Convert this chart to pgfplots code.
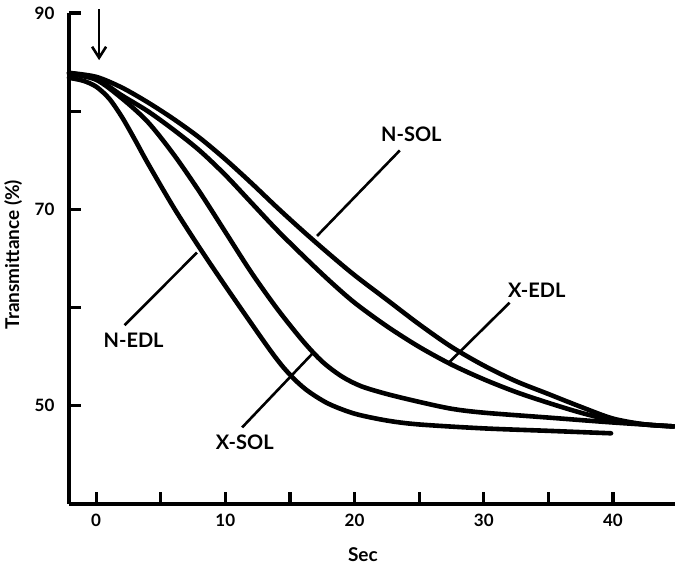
\documentclass[border=0pt]{standalone}
\usepackage{fontspec}
\setmainfont{Lato}
\usepackage{pgfplots}
\pgfplotsset{compat=1.18}
\usetikzlibrary{arrows.meta}

\begin{document}
\begin{tikzpicture}
\begin{axis}[
  scale only axis,
  width=606pt, height=491pt,
  xmin=-2.1, xmax=44.8,
  ymin=40, ymax=90,
  axis lines=left,
  axis line style={-, line width=3.2pt},
  clip=false,
  xtick={0,10,20,30,40},
  minor xtick={5,15,25,35},
  ytick={50,70,90},
  minor ytick={60,80},
  tick align=inside,
  major tick length=12pt, minor tick length=12pt,
  xtick style={black, line width=3.2pt},
  ytick style={black, line width=3.2pt},
  every minor tick/.append style={line width=3.2pt},
  every major tick/.append style={line width=3.2pt},
  /pgf/number format/assume math mode=true,
  ticklabel style={font=\fontsize{17}{20}\selectfont\bfseries},
  xticklabel style={yshift=-7pt},
  yticklabel style={xshift=-11pt},
  xlabel={Sec},
  ylabel={Transmittance (\%)},
  label style={font=\fontsize{19}{22}\selectfont\bfseries},
  xlabel style={at={(axis description cs:0.485,-0.104)}, anchor=center},
  ylabel style={at={(axis description cs:-0.092,0.508)}, anchor=center},
]
  % N-SOL
  \addplot[black, line width=4.6pt, smooth, line cap=round] coordinates {
    (-2.1,83.9)(0,83.5)(2,82.4)(4,80.9)(6,79.2)(8,77.3)(10,75.1)(12,72.7)
    (14,70.2)(16,67.8)(18,65.5)(20,63.3)(22.5,60.8)(25,58.3)(27.5,56.0)
    (30,54.1)(32.5,52.5)(35,51.2)(37.5,49.9)(40,48.7)(42.5,48.1)(44.7,47.9)
  };
  % X-EDL
  \addplot[black, line width=4.6pt, smooth, line cap=round] coordinates {
    (-2.1,83.9)(0,83.3)(2,81.6)(4,80.0)(6,78.1)(8,76.0)(10,73.5)(12,70.7)
    (14,67.9)(16,65.3)(18,62.8)(20,60.5)(22.5,58.1)(25,56.0)(27.5,54.2)
    (30,52.7)(32.5,51.4)(35,50.3)(37.5,49.3)(40,48.5)(42.5,48.1)(44.7,47.9)
  };
  % X-SOL
  \addplot[black, line width=4.6pt, smooth, line cap=round] coordinates {
    (-2.1,83.8)(0,83.2)(2,81.3)(4,78.9)(6,75.6)(8,71.8)(10,67.7)(12,63.6)
    (14,59.9)(16,56.6)(17.5,54.5)(19,53.0)(20.5,52.0)(22.5,51.2)(25,50.4)
    (27.5,49.7)(30,49.3)(35,48.8)(40,48.3)(44.7,47.9)
  };
  % N-EDL
  \addplot[black, line width=4.6pt, smooth, line cap=round] coordinates {
    (-2.1,83.4)(-1,83.1)(0,82.5)(1,81.3)(2,79.4)(3,77.1)(4,74.7)(6,70.2)
    (8,66.1)(10,62.2)(12,58.4)(13.5,55.6)(14.5,53.9)(15.5,52.5)(16.5,51.4)
    (18,50.2)(20,49.2)(22.5,48.5)(25,48.1)(30,47.7)(35,47.45)(39.85,47.2)
  };

  % leaders and labels
  \draw[line width=2.6pt] (axis cs:23.5,76.0) -- (axis cs:17.1,67.3);
  \draw[line width=2.6pt] (axis cs:32.0,60.5) -- (axis cs:27.3,54.4);
  \draw[line width=2.6pt] (axis cs:2.2,58.2) -- (axis cs:7.8,65.6);
  \draw[line width=2.6pt] (axis cs:11.3,47.8) -- (axis cs:16.8,55.4);
  \begin{scope}[every node/.style={font=\fontsize{20}{24}\selectfont\bfseries}]
    \node at (axis cs:24.4,77.6) {N-SOL};
    \node at (axis cs:34.1,61.8) {X-EDL};
    \node at (axis cs:2.9,56.7) {N-EDL};
    \node at (axis cs:11.5,46.3) {X-SOL};
  \end{scope}

  % injection arrow
  \draw[line width=2.6pt, -{Straight Barb[length=11pt, width=14pt, line width=2.6pt]}]
    (axis cs:0.23,90.4) -- (axis cs:0.23,85.2);
\end{axis}
\pgfresetboundingbox
\useasboundingbox (-69pt,-61pt) rectangle (606pt,504pt);
\end{tikzpicture}
\end{document}
